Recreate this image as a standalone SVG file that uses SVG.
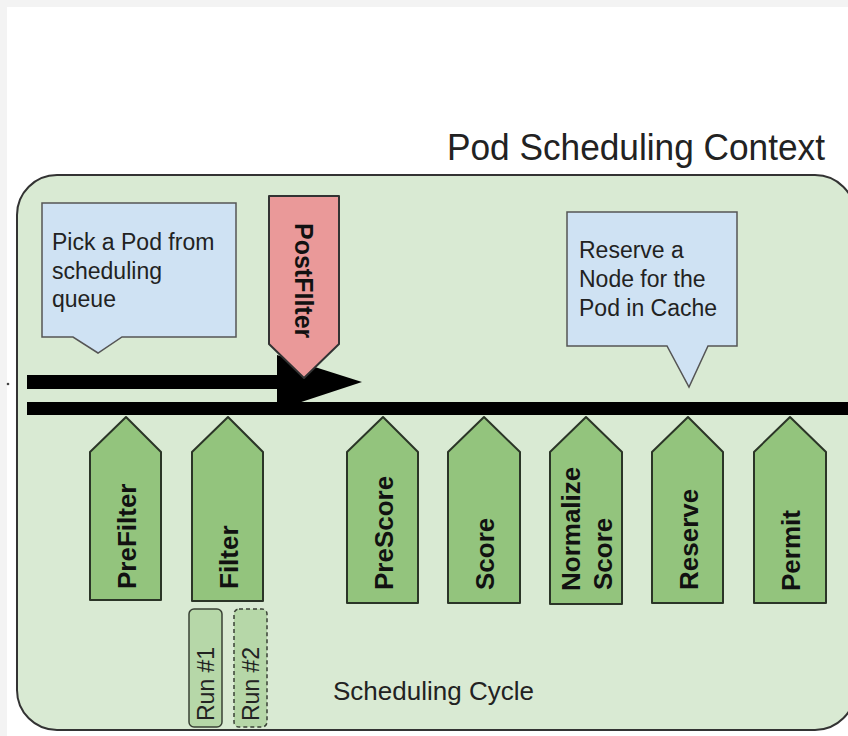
<svg xmlns="http://www.w3.org/2000/svg" width="848" height="736" viewBox="0 0 848 736">
<style>
text{font-family:"Liberation Sans",Arial,sans-serif;}
.note{fill:#cfe2f3;stroke:#555;stroke-width:1.5;}
.ntxt{font-size:23px;fill:#222;}
.step{fill:#93c47d;stroke:#2b3527;stroke-width:2;stroke-linejoin:round;}
.stxt{font-size:26px;font-weight:bold;fill:#111;}
.run{fill:#b6d7a8;stroke:#3a4236;stroke-width:1.5;}
.rtxt{font-size:23px;fill:#222;}
</style>
<rect x="0" y="0" width="848" height="736" fill="#ffffff"/>
<rect x="0" y="0" width="848" height="7" fill="#f3f3f3"/>
<rect x="0" y="0" width="7" height="736" fill="#f3f3f3"/>
<text x="447" y="160" font-size="37" fill="#222" textLength="378" lengthAdjust="spacingAndGlyphs">Pod Scheduling Context</text>
<g id="context">
<rect x="17" y="175" width="838" height="555" rx="40" ry="40" fill="#d9ead3" stroke="#333" stroke-width="2"/>
</g>
<circle cx="8" cy="384" r="1.3" fill="#444"/>
<g id="note-pick">
<path class="note" d="M42,203 H236 V337 H122 L98,353 L73,337 H42 Z"/>
<text class="ntxt" x="52" y="250">Pick a Pod from</text>
<text class="ntxt" x="52" y="279">scheduling</text>
<text class="ntxt" x="52" y="307">queue</text>
</g>
<g id="note-reserve">
<path class="note" d="M567,212 H737 V346 H708 L689,387 L667,346 H567 Z"/>
<text class="ntxt" x="579" y="258">Reserve a</text>
<text class="ntxt" x="579" y="287">Node for the</text>
<text class="ntxt" x="579" y="316">Pod in Cache</text>
</g>
<g id="connectors">
<rect x="27" y="375" width="252" height="14" fill="#000"/>
<polygon points="277,355 362,382 277,410" fill="#000"/>
<rect x="27" y="402" width="821" height="13" fill="#000"/>
</g>
<g id="postfilter">
<path d="M269,196 H339 V344 L304,378 L269,344 Z" fill="#ea9999" stroke="#333" stroke-width="2" stroke-linejoin="round"/>
<text class="stxt" transform="translate(295,223) rotate(90)" style="font-size:25px">PostFIlter</text>
</g>
<g id="prefilter">
<path class="step" d="M126,417 L161,452 V600 H90 V452 Z"/>
<text class="stxt" transform="translate(135.5,589) rotate(-90)">PreFilter</text>
</g>
<g id="filter">
<path class="step" d="M228,417 L263,452 V601 H192 V452 Z"/>
<text class="stxt" transform="translate(237.5,589) rotate(-90)">Filter</text>
</g>
<g id="prescore">
<path class="step" d="M383,417 L418,452 V603 H347 V452 Z"/>
<text class="stxt" transform="translate(392.5,590) rotate(-90)">PreScore</text>
</g>
<g id="score">
<path class="step" d="M484,417 L520,452 V603 H448 V452 Z"/>
<text class="stxt" transform="translate(493.5,590) rotate(-90)">Score</text>
</g>
<g id="normalize-score">
<path class="step" d="M586,417 L622,452 V604 H550 V452 Z"/>
<text class="stxt" transform="translate(580,591) rotate(-90)">Normalize</text>
<text class="stxt" transform="translate(611.5,590) rotate(-90)">Score</text>
</g>
<g id="reserve">
<path class="step" d="M688,417 L723,452 V603 H652 V452 Z"/>
<text class="stxt" transform="translate(697.5,590) rotate(-90)">Reserve</text>
</g>
<g id="permit">
<path class="step" d="M790,417 L826,452 V603 H754 V452 Z"/>
<text class="stxt" transform="translate(799.5,591) rotate(-90)">Permit</text>
</g>
<g id="run1">
<rect class="run" x="189" y="609" width="33" height="118" rx="5"/>
<text class="rtxt" transform="translate(213.5,721) rotate(-90)">Run #1</text>
</g>
<g id="run2">
<rect class="run" x="234" y="609" width="33" height="118" rx="5" stroke-dasharray="4,3"/>
<text class="rtxt" transform="translate(258.5,721) rotate(-90)">Run #2</text>
</g>
<text x="333" y="700" font-size="26" fill="#222">Scheduling Cycle</text>
</svg>
